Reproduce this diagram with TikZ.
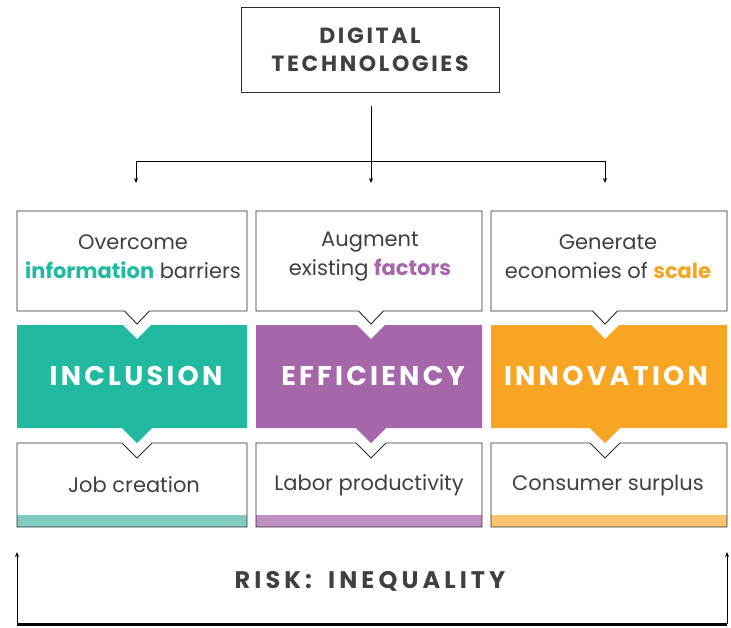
\documentclass[tikz,border=0pt]{standalone}
\usepackage{fontspec}
\setmainfont{Poppins}
\usetikzlibrary{arrows.meta}
\definecolor{tealc}{HTML}{21BAA0}
\definecolor{purpc}{HTML}{A667AA}
\definecolor{orngc}{HTML}{F8A523}
\definecolor{tealL}{HTML}{82CBC0}
\definecolor{purpL}{HTML}{BF91C2}
\definecolor{orngL}{HTML}{FCC36E}
\definecolor{txt}{HTML}{404040}
\definecolor{edge}{HTML}{2A2A2A}
\tikzset{
  boxline/.style={draw=edge, line width=0.9pt, fill=white},
  conn/.style={draw=black, line width=0.8pt, -{Stealth[length=5pt,width=4pt]}},
  bodytxt/.style={text=txt, font=\fontsize{21}{29}\selectfont, align=center},
  bigtxt/.style={text=white, font=\fontsize{27}{30}\selectfont\bfseries\addfontfeatures{LetterSpace=12}},
  headtxt/.style={text=txt, font=\fontsize{22}{28}\selectfont\bfseries\addfontfeatures{LetterSpace=12}, align=center},
  risktxt/.style={text=txt, font=\fontsize{24}{28}\selectfont\bfseries\addfontfeatures{LetterSpace=17}},
}
\begin{document}
\begin{tikzpicture}[x=1pt,y=-1pt]
\useasboundingbox (0,0) rectangle (731,627);
% top box
\node[draw=edge, line width=0.9pt, minimum width=258pt, minimum height=85pt, inner sep=0pt, headtxt] (dt) at (370,49.5) {DIGITAL\\TECHNOLOGIES};
\coordinate (split) at (371,161);
\coordinate (lt) at (136,161);
\coordinate (rt) at (605,161);
\coordinate (la) at (136,183);
\coordinate (ma) at (371,183);
\coordinate (ra) at (605,183);
\draw[conn] ([yshift=-14pt]dt.south -| split) -- (ma);
\draw[line width=0.8pt] (lt) -- (rt);
\draw[conn] (lt) -- (la);
\draw[conn] (rt) -- (ra);
% columns: L R c colour light
\foreach \L/\R/\c/\col/\lig in {17/247/137/tealc/tealL, 256/482/371/purpc/purpL, 491/727/605/orngc/orngL}{
  \draw[boxline] (\L,211) -- (\R,211) -- (\R,311) -- (\c+12.5,311) -- (\c,324) -- (\c-12.5,311) -- (\L,311) -- cycle;
  \fill[\col] (\L,325) -- (\c-14,325) -- (\c,339) -- (\c+14,325) -- (\R,325) -- (\R,428) -- (\c+15,428) -- (\c,443) -- (\c-15,428) -- (\L,428) -- cycle;
  \fill[\lig] (\L,515) rectangle (\R,527);
  \draw[draw=edge, line width=0.9pt] (\L,443) -- (\c-15,443) -- (\c,458) -- (\c+15,443) -- (\R,443) -- (\R,527) -- (\L,527) -- cycle;
}
% texts
\node[bodytxt] (t1) at (133,257) {Overcome\\{\color{tealc}\bfseries information} barriers};
\node[bodytxt] (t2) at (370,257) {Augment\\existing {\color{purpc}\bfseries factors}};
\node[bodytxt] (t3) at (608,257) {Generate\\economies of {\color{orngc}\bfseries scale}};
\node[bigtxt] (c1) at (136,376) {INCLUSION};
\node[bigtxt] (c2) at (373,376) {EFFICIENCY};
\node[bigtxt] (c3) at (606,376) {INNOVATION};
\node[bodytxt] (b1) at (134,485) {Job creation};
\node[bodytxt] (b2) at (369,485) {Labor productivity};
\node[bodytxt] (b3) at (608,485) {Consumer surplus};
\node[risktxt] (risk) at (370,581) {RISK:\hspace{7pt} INEQUALITY};
% bottom bracket
\coordinate (bl) at (17,624);
\coordinate (br) at (727,624);
\coordinate (blt) at (17,552);
\coordinate (brt) at (727,552);
\draw[line width=3pt] (bl) -- (br);
\draw[conn] (bl) -- (blt);
\draw[conn] (br) -- (brt);
\end{tikzpicture}
\end{document}
